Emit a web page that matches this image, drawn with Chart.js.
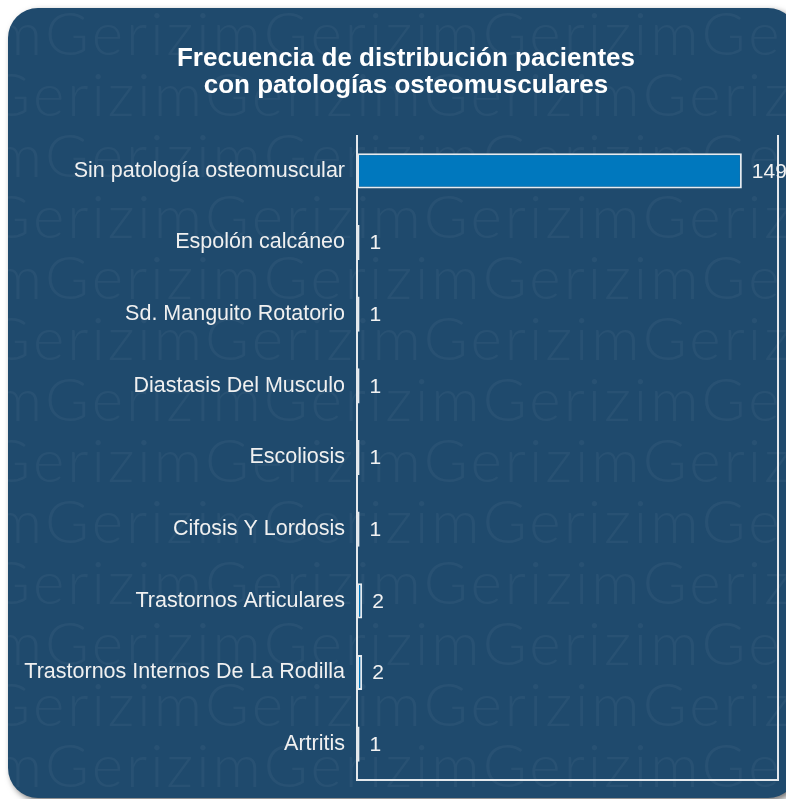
<!DOCTYPE html>
<html>
<head>
<meta charset="utf-8">
<script src="https://cdn.jsdelivr.net/npm/chart.js@4"></script>
<style>
  html, body { margin: 0; padding: 0; background: #fff; overflow: hidden; }
  #card {
    position: absolute; left: 8px; top: 8px; width: 790px; height: 790px;
    background: #1f4a6d; border-radius: 30px; overflow: hidden;
    box-shadow: 3px 3px 6px rgba(0,0,0,0.55);
  }
  #chart { position: absolute; left: 0; top: 0; }
</style>
</head>
<body>
<div id="card"><canvas id="chart" width="778" height="790"></canvas></div>
<script>
const titleLines = ['Frecuencia de distribución pacientes', 'con patologías osteomusculares'];
const categories = [
  'Sin patología osteomuscular',
  'Espolón calcáneo',
  'Sd. Manguito Rotatorio',
  'Diastasis Del Musculo',
  'Escoliosis',
  'Cifosis Y Lordosis',
  'Trastornos Articulares',
  'Trastornos Internos De La Rodilla',
  'Artritis',
];
const values = [149, 1, 1, 1, 1, 1, 2, 2, 1];
const xMax = 163;

const textFont = '"Liberation Sans", Arial, sans-serif';

// faint repeated brand text behind the chart
const watermark = {
  id: 'watermark',
  beforeDraw(chart) {
    const ctx = chart.ctx;
    ctx.save();
    ctx.font = '300 60px Lato, "DejaVu Sans", sans-serif';
    ctx.letterSpacing = '3px';
    ctx.fillStyle = 'rgba(255,255,255,0.045)';
    ctx.textBaseline = 'alphabetic';
    const word = 'Gerizim';
    const w = ctx.measureText(word).width;
    for (let r = 0; r < 14; r++) {
      const y = 47 + r * 61;
      const off = (r % 2 === 0 ? 37 : 197) - w * 2;
      for (let x = off; x < chart.width + w; x += w) ctx.fillText(word, x, y);
    }
    ctx.restore();
  }
};

const title = {
  id: 'customTitle',
  beforeDatasetsDraw(chart) {
    const ctx = chart.ctx;
    ctx.save();
    ctx.font = 'bold 26px ' + textFont;
    ctx.fillStyle = '#ffffff';
    ctx.textAlign = 'center';
    ctx.textBaseline = 'alphabetic';
    titleLines.forEach((t, i) => ctx.fillText(t, 398, 58 + i * 27));
    ctx.restore();
  }
};

// left, right and bottom frame lines
const frame = {
  id: 'frame',
  afterDatasetsDraw(chart) {
    const { ctx, chartArea: a } = chart;
    ctx.save();
    ctx.strokeStyle = '#e4e8ec';
    ctx.lineWidth = 2;
    ctx.beginPath();
    ctx.moveTo(a.left, a.top);
    ctx.lineTo(a.left, a.bottom);
    ctx.lineTo(a.right, a.bottom);
    ctx.lineTo(a.right, a.top);
    ctx.stroke();
    ctx.restore();
  }
};

const valueLabels = {
  id: 'valueLabels',
  afterDraw(chart) {
    const ctx = chart.ctx;
    ctx.save();
    ctx.font = '21px ' + textFont;
    ctx.fillStyle = '#f2f2f2';
    ctx.textAlign = 'left';
    ctx.textBaseline = 'middle';
    chart.getDatasetMeta(0).data.forEach((bar, i) => {
      ctx.fillText(String(values[i]), bar.x + 10, bar.y + 1);
    });
    ctx.restore();
  }
};

new Chart(document.getElementById('chart'), {
  type: 'bar',
  data: {
    labels: categories,
    datasets: [{
      data: values,
      backgroundColor: '#0078be',
      borderColor: '#e6ebf0',
      borderWidth: 2,
      borderSkipped: false,
      barPercentage: 0.49,
      categoryPercentage: 1,
    }],
  },
  options: {
    indexAxis: 'y',
    responsive: false,
    animation: false,
    layout: { padding: { left: 0, right: 8, top: 127, bottom: 18 } },
    plugins: {
      legend: { display: false },
      tooltip: { enabled: false },
      title: { display: false },
    },
    scales: {
      x: { display: false, min: 0, max: xMax },
      y: {
        grid: { display: false, drawTicks: false },
        border: { display: false },
        ticks: {
          color: '#f0f0f0',
          padding: 12,
          font: { family: textFont, size: 21.5, lineHeight: 0.3 },
        },
        afterFit(scale) { scale.width = 349; },
      },
    },
  },
  plugins: [watermark, title, frame, valueLabels],
});
</script>
</body>
</html>
